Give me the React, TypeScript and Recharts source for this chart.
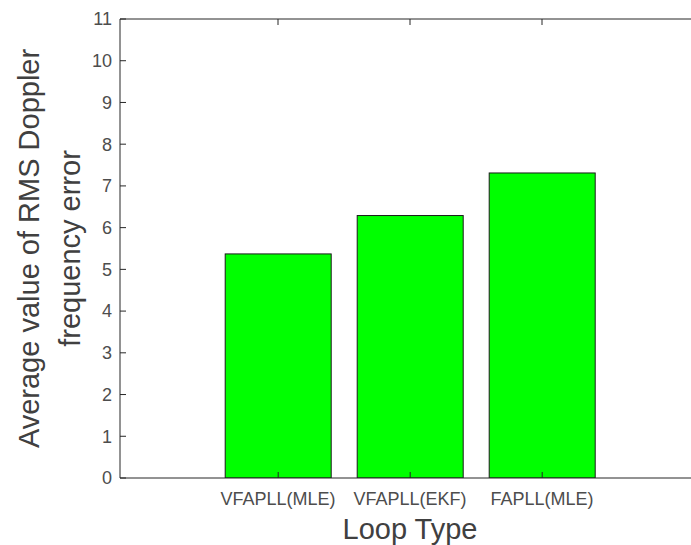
import React from 'react';
import { BarChart, Bar, XAxis, YAxis, Label } from 'recharts';

const loopTypes = ['VFAPLL(MLE)', 'VFAPLL(EKF)', 'FAPLL(MLE)'];
const rmsError = [5.37, 6.29, 7.31];
const yTicks = [0, 1, 2, 3, 4, 5, 6, 7, 8, 9, 10, 11];

const data = loopTypes.map((name, i) => ({ name, value: rmsError[i] }));

const FONT = '"Liberation Sans", Arial, Helvetica, sans-serif';
const AXIS = '#262626';
const TICK_TEXT = '#4d4d4d';

const PLOT_LEFT = 120;
const PLOT_TOP = 19;
const PLOT_BOTTOM = 478;
const TICK_LEN = 6;

// MATLAB style: ticks point into the plot box
function YTick(props: any) {
  const { y, payload } = props;
  return (
    <g>
      <line x1={PLOT_LEFT} x2={PLOT_LEFT + TICK_LEN} y1={y} y2={y} stroke={AXIS} />
      <text x={PLOT_LEFT - 8} y={y} dy="0.355em" textAnchor="end" fill={TICK_TEXT} fontSize={18} fontFamily={FONT}>
        {payload.value}
      </text>
    </g>
  );
}

function XTick(props: any) {
  const { x, payload } = props;
  return (
    <text x={x} y={492} dy="0.71em" textAnchor="middle" fill={TICK_TEXT} fontSize={18} fontFamily={FONT}>
      {payload.value}
    </text>
  );
}

function TopTick(props: any) {
  const { x } = props;
  return <line x1={x} x2={x} y1={PLOT_TOP} y2={PLOT_TOP + TICK_LEN} stroke={AXIS} />;
}

// bar plus the bottom axis tick, so the tick sits on top of the fill like in MATLAB
function BarWithTick(props: any) {
  const { x, y, width, height, fill, stroke } = props;
  const cx = x + width / 2;
  return (
    <g>
      <rect x={x} y={y} width={width} height={height} fill={fill} stroke={stroke} />
      <line x1={cx} x2={cx} y1={y + height} y2={y + height - TICK_LEN} stroke={AXIS} />
    </g>
  );
}

function YLabel(props: any) {
  const { viewBox } = props;
  const cy = viewBox.y + viewBox.height / 2;
  return (
    <g fill="#404040" fontSize={29} fontFamily={FONT}>
      <text x={39} y={cy} textAnchor="middle" transform={`rotate(-90 39 ${cy})`}>
        Average value of RMS Doppler
      </text>
      <text x={80} y={cy} textAnchor="middle" transform={`rotate(-90 80 ${cy})`}>
        frequency error
      </text>
    </g>
  );
}

function XLabel(props: any) {
  const { viewBox } = props;
  const cx = viewBox.x + viewBox.width / 2;
  return (
    <text x={cx} y={539} textAnchor="middle" fill="#404040" fontSize={29} fontFamily={FONT}>
      Loop Type
    </text>
  );
}

export default function App() {
  return (
    <div style={{ position: 'fixed', left: 0, top: 0, width: 691, height: 545, overflow: 'hidden', background: '#fff' }}>
      <BarChart
        width={710}
        height={545}
        data={data}
        margin={{ top: PLOT_TOP - 1, right: 10, left: 0, bottom: 0 }}
        barCategoryGap="10%"
      >
        <XAxis
          dataKey="name"
          padding={{ left: 92, right: 92 }}
          height={545 - PLOT_BOTTOM}
          stroke={AXIS}
          tickLine={false}
          tick={<XTick />}
          interval={0}
        >
          <Label content={<XLabel />} />
        </XAxis>
        <XAxis
          xAxisId="top"
          orientation="top"
          dataKey="name"
          padding={{ left: 92, right: 92 }}
          height={1}
          stroke={AXIS}
          tickLine={false}
          tick={<TopTick />}
          interval={0}
        />
        <YAxis
          domain={[0, 11]}
          ticks={yTicks}
          width={PLOT_LEFT}
          stroke={AXIS}
          tickLine={false}
          tick={<YTick />}
          interval={0}
          allowDataOverflow
        >
          <Label content={<YLabel />} />
        </YAxis>
        <Bar
          dataKey="value"
          fill="#00ff00"
          stroke="#1a1a1a"
          shape={<BarWithTick />}
          isAnimationActive={false}
        />
      </BarChart>
    </div>
  );
}
